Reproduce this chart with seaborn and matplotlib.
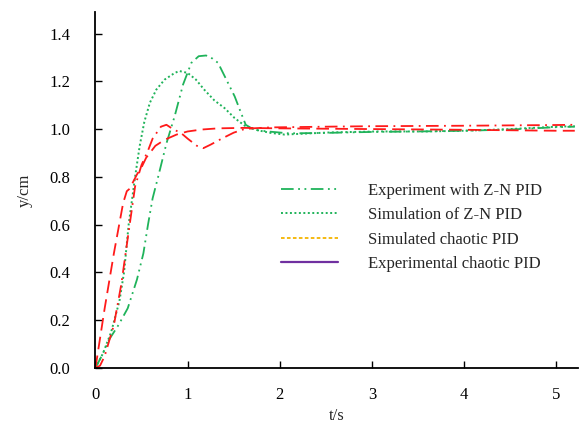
import numpy as np
import pandas as pd
import matplotlib
matplotlib.use("Agg")
import matplotlib.pyplot as plt
from matplotlib.lines import Line2D
import seaborn as sns

# ---------------- data ----------------
t_zn_exp = [0, 0.08, 0.15, 0.25, 0.35, 0.45, 0.52, 0.57, 0.62, 0.68, 0.77, 0.86, 0.95,
            1.04, 1.12, 1.2, 1.27, 1.33, 1.42, 1.51, 1.58, 1.63, 1.72, 1.87, 2.1, 2.5,
            3.0, 3.5, 4.0, 4.5, 5.0, 5.2]
y_zn_exp = [0, 0.06, 0.12, 0.18, 0.25, 0.37, 0.48, 0.6, 0.71, 0.8, 0.94, 1.055, 1.186,
            1.277, 1.305, 1.308, 1.295, 1.277, 1.207, 1.137, 1.067, 1.018, 0.997, 0.99,
            0.982, 0.984, 0.988, 0.99, 0.993, 0.998, 1.008, 1.01]

t_zn_sim = [0, 0.08, 0.17, 0.26, 0.31, 0.36, 0.43, 0.48, 0.53, 0.59, 0.66, 0.75, 0.86,
            0.91, 1.0, 1.09, 1.18, 1.29, 1.4, 1.51, 1.62, 1.76, 1.9, 2.05, 2.27, 2.55,
            3.06, 3.6, 4.0, 4.5, 5.0, 5.2]
y_zn_sim = [0, 0.06, 0.15, 0.28, 0.4, 0.6, 0.8, 0.93, 1.03, 1.11, 1.165, 1.207, 1.235,
            1.243, 1.235, 1.207, 1.165, 1.12, 1.088, 1.046, 1.014, 0.995, 0.984, 0.977,
            0.981, 0.986, 0.99, 0.99, 0.993, 1.0, 1.01, 1.012]

t_ch_a = [0, 0.1, 0.2, 0.3, 0.34, 0.37, 0.45, 0.5, 0.55, 0.65, 0.75, 0.88, 1.0, 1.15,
          1.33, 1.6, 2.0, 3.0, 4.0, 5.0, 5.2]
y_ch_a = [0, 0.25, 0.48, 0.69, 0.74, 0.75, 0.81, 0.84, 0.88, 0.93, 0.955, 0.977, 0.99,
          0.998, 1.003, 1.005, 1.003, 1.0, 0.997, 0.993, 0.993]

t_ch_b = [0, 0.05, 0.1, 0.2, 0.28, 0.36, 0.43, 0.5, 0.57, 0.62, 0.71, 0.77, 0.84, 0.93,
          1.0, 1.1, 1.17, 1.25, 1.37, 1.5, 1.6, 1.7, 1.9, 2.5, 3.0, 4.0, 5.0, 5.2]
y_ch_b = [0, 0.01, 0.05, 0.18, 0.35, 0.57, 0.76, 0.85, 0.91, 0.96, 1.01, 1.018, 1.0,
          0.983, 0.96, 0.93, 0.92, 0.935, 0.96, 0.985, 0.998, 1.003, 1.007, 1.01, 1.012,
          1.014, 1.017, 1.018]

legend_labels = ["Experiment with Z-N PID", "Simulation of Z-N PID",
                 "Simulated chaotic PID", "Experimental chaotic PID"]
x_ticks = [0, 1, 2, 3, 4, 5]
y_ticks = [0.0, 0.2, 0.4, 0.6, 0.8, 1.0, 1.2, 1.4]

# ---------------- style ----------------
sns.set_style("ticks")
plt.rcParams["font.family"] = ["Liberation Serif", "DejaVu Serif"]
plt.rcParams["xtick.direction"] = "in"
plt.rcParams["ytick.direction"] = "in"

GREEN = "#1fb35a"
RED = "#ff1a1a"
ORANGE = "#f5b400"
PURPLE = "#7030a0"

fig = plt.figure(figsize=(5.81, 4.23), dpi=100)
ax = fig.add_axes([95 / 581, 1 - 368 / 423, (578 - 95) / 581, (368 - 12) / 423])

df_a = pd.DataFrame({"t": t_zn_exp, "y": y_zn_exp})
df_b = pd.DataFrame({"t": t_zn_sim, "y": y_zn_sim})
df_c = pd.DataFrame({"t": t_ch_a, "y": y_ch_a})
df_d = pd.DataFrame({"t": t_ch_b, "y": y_ch_b})

sns.lineplot(data=df_a, x="t", y="y", ax=ax, color=GREEN, lw=1.3,
             linestyle=(0, (7, 2.5, 1, 2.5, 1, 2.5)), sort=False)
sns.lineplot(data=df_b, x="t", y="y", ax=ax, color=GREEN, lw=1.4,
             linestyle=(0, (1, 1.3)), sort=False)
sns.lineplot(data=df_c, x="t", y="y", ax=ax, color=RED, lw=1.3,
             linestyle=(0, (7, 3.5)), sort=False)
sns.lineplot(data=df_d, x="t", y="y", ax=ax, color=RED, lw=1.3,
             linestyle=(0, (7, 3, 1, 3)), sort=False)

ax.set_xlim(-0.005, 5.235)
ax.set_ylim(0, 1.49)
ax.set_xticks(x_ticks)
ax.set_xticklabels([str(v) for v in x_ticks])
ax.set_yticks(y_ticks)
ax.set_yticklabels([f"{v:.1f}" for v in y_ticks])
ax.tick_params(axis="both", labelsize=12, length=5, width=1, colors="black")
ax.tick_params(axis="y", pad=18)
ax.tick_params(axis="x", pad=14)
for s in ["top", "right"]:
    ax.spines[s].set_visible(False)
for s in ["left", "bottom"]:
    ax.spines[s].set_linewidth(1.3)
    ax.spines[s].set_color("black")

ax.set_xlabel("t/s", fontsize=12, labelpad=3)
ax.set_ylabel("y/cm", fontsize=12, labelpad=12)

handles = [
    Line2D([], [], color=GREEN, lw=1.3, linestyle=(0, (7, 2.5, 1, 2.5, 1, 2.5))),
    Line2D([], [], color=GREEN, lw=1.4, linestyle=(0, (1, 1.3))),
    Line2D([], [], color=ORANGE, lw=1.3, linestyle=(0, (2, 1.3))),
    Line2D([], [], color=PURPLE, lw=1.6, linestyle="-"),
]
leg = ax.legend(handles, legend_labels, loc="upper left",
                bbox_to_anchor=(281 / 581, 1 - 183 / 423),
                bbox_transform=fig.transFigure, frameon=False, fontsize=12,
                handlelength=3.4, handletextpad=1.85, labelspacing=0.5,
                borderpad=0, borderaxespad=0)

fig.savefig("out.png", dpi=100)
